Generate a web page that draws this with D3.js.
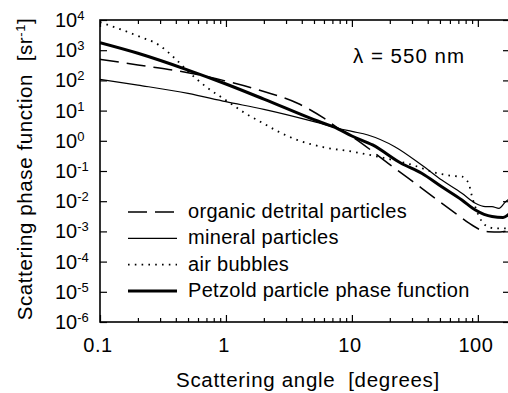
<!DOCTYPE html>
<html>
<head>
<meta charset="utf-8">
<script src="https://cdn.jsdelivr.net/npm/d3@7"></script>
<style>
  html, body { margin: 0; padding: 0; background: #fff; }
  svg { display: block; }
  text { font-family: "Liberation Sans", Arial, Helvetica, sans-serif; fill: #000; }
</style>
</head>
<body>
<svg id="chart" width="508" height="393"></svg>
<script>
// Scattering phase functions at 550 nm: angle [degrees] vs phase function [sr^-1]
const petzoldAngles = [0.1, 0.2, 0.5, 1, 2, 5, 7.75, 10, 14.6, 24.6, 35.8, 51.7, 74.7, 95.6, 129.6, 158.6, 180];
const petzoldValues = [1770, 790, 220, 76, 24, 5.0, 2.5, 1.44, 0.73, 0.18, 0.084, 0.030, 0.011, 0.0051, 0.0031, 0.0029, 0.0040];

const organicAngles = [0.1, 0.2, 0.5, 1, 2, 3.7, 6, 7.75, 10, 19.4, 28, 45, 70.5, 84.5, 106, 120.6, 150, 180];
const organicValues = [500, 324, 180, 95, 43, 17.5, 5.6, 2.65, 1.39, 0.18, 0.058, 0.0132, 0.0033, 0.0019, 0.00111, 0.00098, 0.00095, 0.00111];

const mineralAngles = [0.1, 0.2, 0.5, 1, 2, 5, 7.75, 10, 13.4, 21.9, 35.8, 51.7, 74.7, 95.6, 114.5, 129.6, 147, 166, 180];
const mineralValues = [109, 70, 37, 19.7, 11.0, 4.3, 2.6, 2.05, 1.56, 0.64, 0.158, 0.050, 0.0183, 0.0085, 0.0066, 0.0066, 0.0058, 0.0096, 0.0125];

const bubbleAngles = [0.1, 0.15, 0.2, 0.3, 0.4, 0.5, 0.7, 1, 1.4, 2, 2.5, 3.7, 6, 10, 16, 30, 48.6, 65, 75, 84.5, 90, 101, 115, 138, 180];
const bubbleValues = [8500, 4700, 2950, 1400, 500, 200, 60, 22, 8.5, 3.7, 2.2, 1.06, 0.61, 0.44, 0.30, 0.16, 0.083, 0.068, 0.065, 0.039, 0.014, 0.0035, 0.0016, 0.00126, 0.00126];

const xTickValues = [0.1, 1, 10, 100];
const xTickLabels = ["0.1", "1", "10", "100"];
const yExponents = [4, 3, 2, 1, 0, -1, -2, -3, -4, -5, -6];

const legendLabels = ["organic detrital particles", "mineral particles", "air bubbles", "Petzold particle phase function"];
const xTitle = "Scattering angle  [degrees]";
const yTitle = "Scattering phase function  [sr";
const yTitleUnitExp = "-1";
const wavelengthLabel = "\u03BB = 550 nm";

// ---- layout ----
const margin = { left: 100, top: 20, right: 510, bottom: 322 };
const svg = d3.select("#chart");

const x = d3.scaleLog().domain([0.1, 180]).range([margin.left, margin.right]);
const y = d3.scaleLog().domain([1e-6, 1e4]).range([margin.bottom, margin.top]);

const zip = (a, b) => a.map((v, i) => [v, b[i]]);
const series = [
  { key: "organic", pts: zip(organicAngles, organicValues), width: 1.5, dash: "19,8" },
  { key: "mineral", pts: zip(mineralAngles, mineralValues), width: 1.2, dash: null },
  { key: "bubbles", pts: zip(bubbleAngles, bubbleValues), width: 1.8, dash: "1.6,5.2" },
  { key: "petzold", pts: zip(petzoldAngles, petzoldValues), width: 3.0, dash: null }
];

svg.append("defs").append("clipPath").attr("id", "plotClip")
  .append("rect")
  .attr("x", margin.left).attr("y", margin.top)
  .attr("width", margin.right - margin.left).attr("height", margin.bottom - margin.top);

// ---- ticks (inward on all sides) ----
const minorX = [];
[0.1, 1, 10, 100].forEach(d => { for (let k = 2; k <= 9; k++) { const v = d * k; if (v < 180) minorX.push(v); } });
const majorY = yExponents.map(e => Math.pow(10, e));

function tickGroup(axis, transform) {
  const g = svg.append("g").attr("transform", transform).call(axis);
  g.select(".domain").remove();
  g.selectAll(".tick line").attr("stroke", "#000").attr("stroke-width", 1.2);
  g.selectAll(".tick text").remove();
  return g;
}
tickGroup(d3.axisBottom(x).tickValues(xTickValues).tickSize(-7).tickFormat(""), `translate(0,${margin.bottom})`);
tickGroup(d3.axisBottom(x).tickValues(minorX).tickSize(-4).tickFormat(""), `translate(0,${margin.bottom})`);
tickGroup(d3.axisTop(x).tickValues(xTickValues).tickSize(-7).tickFormat(""), `translate(0,${margin.top})`);
tickGroup(d3.axisTop(x).tickValues(minorX).tickSize(-4).tickFormat(""), `translate(0,${margin.top})`);
tickGroup(d3.axisLeft(y).tickValues(majorY).tickSize(-7).tickFormat(""), `translate(${margin.left},0)`);
tickGroup(d3.axisRight(y).tickValues(majorY).tickSize(-7).tickFormat(""), `translate(${margin.right},0)`);

// frame
svg.append("rect")
  .attr("x", margin.left).attr("y", margin.top)
  .attr("width", margin.right - margin.left).attr("height", margin.bottom - margin.top)
  .attr("fill", "none").attr("stroke", "#000").attr("stroke-width", 1.6);

// ---- curves ----
const line = d3.line()
  .x(d => x(d[0]))
  .y(d => y(d[1]))
  .curve(d3.curveMonotoneX);

svg.append("g").attr("clip-path", "url(#plotClip)")
  .selectAll("path").data(series).join("path")
  .attr("d", d => line(d.pts))
  .attr("fill", "none")
  .attr("stroke", "#000")
  .attr("stroke-width", d => d.width)
  .attr("stroke-dasharray", d => d.dash)
  .attr("stroke-linecap", "butt")
  .attr("stroke-linejoin", "round");

// ---- tick labels ----
svg.append("g").selectAll("text").data(xTickValues).join("text")
  .attr("x", d => x(d) - 2)
  .attr("y", 352)
  .attr("text-anchor", "middle")
  .attr("font-size", 20)
  .attr("letter-spacing", 0.5)
  .text((d, i) => xTickLabels[i]);

const yLab = svg.append("g").selectAll("text").data(yExponents).join("text")
  .attr("x", 55)
  .attr("y", d => y(Math.pow(10, d)) + 7)
  .attr("font-size", 20);
yLab.append("tspan").text("10");
yLab.append("tspan").attr("dy", -7).attr("font-size", 13).text(d => d < 0 ? "-" + Math.abs(d) : String(d));

// ---- axis titles ----
svg.append("text")
  .attr("x", 308).attr("y", 387)
  .attr("text-anchor", "middle")
  .attr("font-size", 20.5)
  .attr("letter-spacing", 0.7)
  .style("white-space", "pre")
  .text(xTitle);

const yt = svg.append("text")
  .attr("transform", "translate(32,169) rotate(-90)")
  .attr("text-anchor", "middle")
  .attr("font-size", 20.5)
  .attr("letter-spacing", 0.6)
  .style("white-space", "pre");
yt.append("tspan").text(yTitle);
yt.append("tspan").attr("dy", -7).attr("font-size", 13).text(yTitleUnitExp);
yt.append("tspan").attr("dy", 7).text("]");

// ---- wavelength annotation ----
svg.append("text")
  .attr("x", 353).attr("y", 63)
  .attr("font-size", 20.5)
  .attr("letter-spacing", 1.0)
  .style("white-space", "pre")
  .text(wavelengthLabel);

// ---- legend ----
const legendY = d3.scaleLinear().domain([0, 3]).range([212, 291]);
const legend = svg.append("g").selectAll("g").data(series).join("g")
  .attr("transform", (d, i) => `translate(0,${legendY(i)})`);
legend.append("line")
  .attr("x1", 128).attr("x2", 177).attr("y1", 0).attr("y2", 0)
  .attr("stroke", "#000")
  .attr("stroke-width", d => d.width)
  .attr("stroke-dasharray", d => d.dash);
legend.append("text")
  .attr("x", 188).attr("y", 6)
  .attr("font-size", 20)
  .attr("letter-spacing", 0.3)
  .text((d, i) => legendLabels[i]);
</script>
</body>
</html>
